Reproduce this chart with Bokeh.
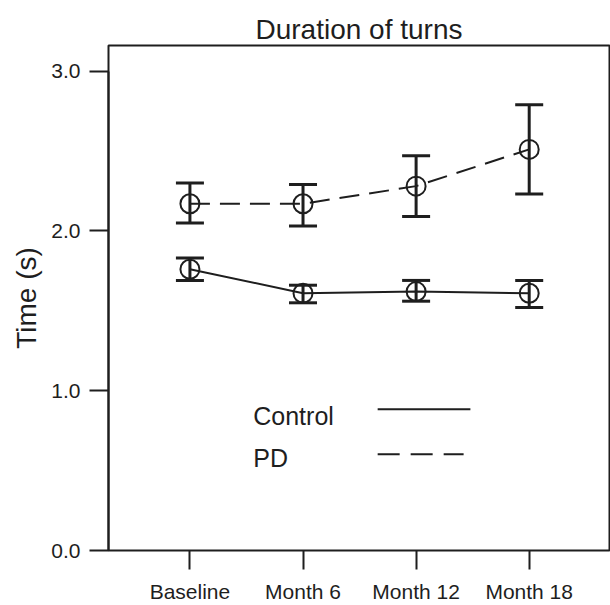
from bokeh.plotting import figure
from bokeh.models import (ColumnDataSource, Range1d, FixedTicker, Whisker, TeeHead)
from bokeh.core.properties import value
from bokeh.embed import file_html
from bokeh.resources import INLINE

# ---- data ----
categories = ["Baseline", "Month 6", "Month 12", "Month 18"]
control_mean = [1.76, 1.61, 1.62, 1.61]
control_upper = [1.83, 1.66, 1.69, 1.69]
control_lower = [1.69, 1.55, 1.56, 1.52]
pd_mean = [2.17, 2.17, 2.28, 2.51]
pd_upper = [2.30, 2.29, 2.47, 2.79]
pd_lower = [2.05, 2.03, 2.09, 2.23]
y_ticks = [0.0, 1.0, 2.0, 3.0]
y_tick_labels = ["0.0", "1.0", "2.0", "3.0"]

FONT = value("Liberation Sans")
INK = "#1e1e1e"

xpos = list(range(1, len(categories) + 1))

p = figure(width=610, height=605, output_backend="svg", toolbar_location=None,
           x_range=Range1d(0.28, 4.71), y_range=Range1d(0, 3.16),
           min_border_left=108, min_border_right=1, min_border_top=45,
           min_border_bottom=54, title="Duration of turns")

p.title.text_font = "Liberation Sans"
p.title.text_font_size = "28px"
p.title.text_font_style = "normal"
p.title.align = "center"
p.title.text_color = INK
p.title.standoff = 2

p.grid.visible = False
p.background_fill_color = "white"
p.border_fill_color = "white"
p.outline_line_color = INK
p.outline_line_width = 2

# x axis
xa = p.xaxis[0]
xa.ticker = FixedTicker(ticks=xpos)
xa.major_label_overrides = {x: c for x, c in zip(xpos, categories)}
xa.axis_line_color = None
xa.major_tick_out = 19
xa.major_tick_in = 0
xa.major_tick_line_width = 2
xa.major_tick_line_color = INK
xa.minor_tick_line_color = None
xa.major_label_text_font = "Liberation Sans"
xa.major_label_text_font_size = "21px"
xa.major_label_text_color = INK
xa.major_label_standoff = 10

# y axis
ya = p.yaxis[0]
ya.ticker = FixedTicker(ticks=y_ticks)
ya.major_label_overrides = {t: s for t, s in zip(y_ticks, y_tick_labels)}
ya.bounds = (0, 3)
ya.axis_line_color = INK
ya.axis_line_width = 2
ya.major_tick_out = 19
ya.major_tick_in = 0
ya.major_tick_line_width = 2
ya.major_tick_line_color = INK
ya.minor_tick_line_color = None
ya.major_label_text_font = "Liberation Sans"
ya.major_label_text_font_size = "21px"
ya.major_label_text_color = INK
ya.major_label_standoff = 9
ya.axis_label = "Time (s)"
ya.axis_label_text_font = "Liberation Sans"
ya.axis_label_text_font_size = "28px"
ya.axis_label_text_font_style = "normal"
ya.axis_label_text_color = INK
ya.axis_label_standoff = 6

ctrl = ColumnDataSource(dict(x=xpos, y=control_mean, upper=control_upper, lower=control_lower))
pdsrc = ColumnDataSource(dict(x=xpos, y=pd_mean, upper=pd_upper, lower=pd_lower))

# lines
p.line("x", "y", source=ctrl, line_color=INK, line_width=2)
p.line("x", "y", source=pdsrc, line_color=INK, line_width=2, line_dash="20 10")

# error bars
for src in (ctrl, pdsrc):
    w = Whisker(base="x", upper="upper", lower="lower", source=src,
                line_color=INK, line_width=3,
                upper_head=TeeHead(size=28, line_width=3, line_color=INK),
                lower_head=TeeHead(size=28, line_width=3, line_color=INK))
    p.add_layout(w)

# open circles
for src in (ctrl, pdsrc):
    p.scatter("x", "y", source=src, marker="circle", size=19,
              fill_color=None, line_color=INK, line_width=2)

# legend (label on the left, line sample on the right)
legend_labels = ["Control", "PD"]
legend_text_x = [1.56, 1.56]
legend_text_y = [0.84, 0.578]
legend_line_x0 = [2.66, 2.66]
legend_line_x1 = [3.48, 3.42]
legend_line_y = [0.884, 0.603]
legend_dash = ["solid", "22 11"]

p.text(x=legend_text_x, y=legend_text_y, text=legend_labels,
       text_font=FONT, text_font_size="25px", text_color=INK,
       text_align="left", text_baseline="alphabetic")
for i in range(len(legend_labels)):
    p.line([legend_line_x0[i], legend_line_x1[i]], [legend_line_y[i], legend_line_y[i]],
           line_color=INK, line_width=2, line_dash=legend_dash[i])

open("out.html", "w").write(file_html(p, INLINE))
